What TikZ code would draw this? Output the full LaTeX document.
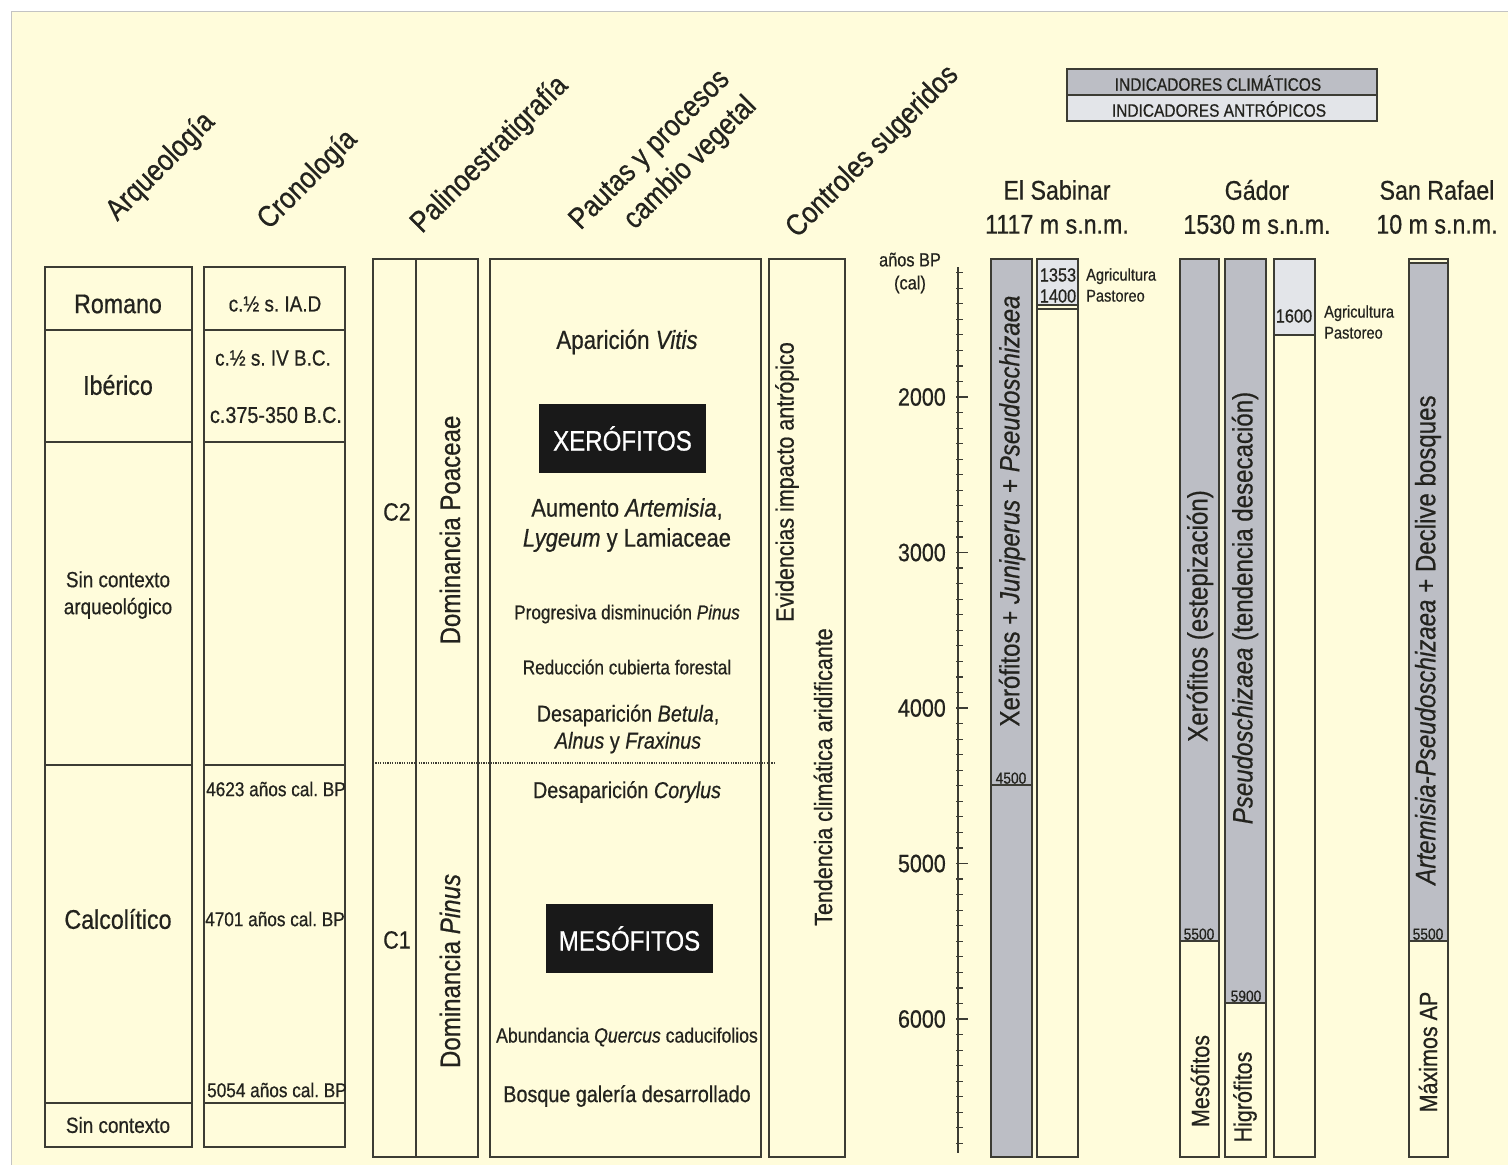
\documentclass[tikz,border=0pt]{standalone}
\usepackage{fontspec}
\setmainfont[FakeStretch=0.86, FakeBold=0.6]{Liberation Sans}
\definecolor{cream}{RGB}{255,252,219}
\definecolor{linec}{RGB}{60,60,52}
\definecolor{textc}{RGB}{35,35,30}
\definecolor{climg}{RGB}{188,190,197}
\definecolor{antrg}{RGB}{227,229,233}
\definecolor{framec}{RGB}{195,195,195}
\newcommand\fsz[2]{\fontsize{#1}{#2}\selectfont}
\frenchspacing
\begin{document}
\frenchspacing
\begin{tikzpicture}[x=1pt,y=-1pt,
  box/.style={draw=linec, line width=1.3pt},
  txt/.style={inner sep=0pt, text=textc},
  hdr/.style={txt, rotate=45, font=\fsz{30}{38}},
  big/.style={txt, font=\fsz{27}{31}},
  mid/.style={txt, font=\fsz{23}{27}},
  sml/.style={txt, font=\fsz{20}{24}},
  tiny/.style={txt, font=\fsz{16}{18}},
  vert/.style={txt, rotate=90, font=\fsz{28}{32}},
  blackbox/.style={fill=black!90, text=white, inner sep=0pt, minimum width=167pt, minimum height=69pt, font=\fsz{28}{32}},
  site/.style={txt, align=center, font=\fsz{27}{34}},
  dat/.style={txt, font=\fsz{19}{22}},
  ant/.style={txt, anchor=west, align=left, font=\fsz{17}{21}}
]
\useasboundingbox (0,0) rectangle (1508,1165);
\fill[white] (0,0) rectangle (1508,1165);
\filldraw[fill=cream, draw=framec, line width=1pt] (11,11) rectangle (1512,1170);

% ---------- headers ----------
\node[hdr] (hArq) at (161,167) {Arqueología};
\node[hdr] (hCro) at (308,180) {Cronología};
\node[hdr] (hPal) at (490,155) {Palinoestratigrafía};
\node[hdr, align=right] (hPau) at (664,164) {Pautas y procesos\\cambio vegetal};
\node[hdr] (hCon) at (873,152) {Controles sugeridos};

% ---------- Arqueologia ----------
\draw[box] (45,267) rectangle (192,1147);
\foreach \yy in {330,442,765,1103} \draw[box] (45,\yy) -- (192,\yy);
\node[big] (aRom) at (118,304) {Romano};
\node[big] (aIbe) at (118,385) {Ibérico};
\node[txt, align=center, font=\fsz{22}{27}] (aSin) at (118,595) {Sin contexto\\arqueológico};
\node[big] (aCal) at (118,919) {Calcolítico};
\node[txt, font=\fsz{22}{26}] (aSin2) at (118,1125) {Sin contexto};

% ---------- Cronologia ----------
\draw[box] (204,267) rectangle (345,1147);
\foreach \yy in {330,442,765,1103} \draw[box] (204,\yy) -- (345,\yy);
\node[txt, font=\fsz{22}{26}] (c1) at (275,304) {c.½ s. IA.D};
\node[txt, font=\fsz{22}{26}] (c2) at (273,358) {c.½ s. IV B.C.};
\node[txt, font=\fsz{23}{26}] (c3) at (276,415) {c.375-350 B.C.};
\node[sml] (c4) at (276,789) {4623 años cal. BP};
\node[sml] (c5) at (275,919) {4701 años cal. BP};
\node[sml] (c6) at (277,1090) {5054 años cal. BP};

% ---------- Palinoestratigrafia ----------
\draw[box] (373,259) rectangle (478,1157);
\draw[box] (416,259) -- (416,1157);
\node[txt, font=\fsz{25}{29}] (pC2) at (397,512) {C2};
\node[txt, font=\fsz{25}{29}] (pC1) at (397,940) {C1};
\node[vert] (pPoa) at (450,530) {Dominancia Poaceae};
\node[vert] (pPin) at (450,971) {Dominancia \textit{Pinus}};

% ---------- Pautas ----------
\draw[box] (490,259) rectangle (761,1157);
\node[txt, font=\fsz{26}{30}] (vVit) at (627,342) {Aparición \textit{Vitis}};
\node[blackbox] (vXer) at (622.5,438.5) {XERÓFITOS};
\node[txt, align=center, font=\fsz{25.5}{30}] (vArt) at (627,525) {Aumento \textit{Artemisia},\\\textit{Lygeum} y Lamiaceae};
\node[sml] (vPin) at (627,614) {Progresiva disminución \textit{Pinus}};
\node[sml] (vRed) at (627,667) {Reducción cubierta forestal};
\node[txt, align=center, font=\fsz{23}{27}] (vBet) at (628,729) {Desaparición \textit{Betula},\\\textit{Alnus} y \textit{Fraxinus}};
\node[mid] (vCor) at (627,792) {Desaparición \textit{Corylus}};
\node[blackbox] (vMes) at (629.5,938.5) {MESÓFITOS};
\node[txt, font=\fsz{20.5}{24}] (vQue) at (627,1037) {Abundancia \textit{Quercus} caducifolios};
\node[mid] (vBos) at (627,1096) {Bosque galería desarrollado};

% ---------- Controles ----------
\draw[box] (769,259) rectangle (845,1157);
\node[txt, rotate=90, font=\fsz{25}{29}] (kEvi) at (787,482) {Evidencias impacto antrópico};
\node[txt, rotate=90, font=\fsz{25}{29}] (kTen) at (823,777) {Tendencia climática aridificante};

% dotted boundary
\coordinate (dotL) at (373,763);
\coordinate (dotR) at (776,763);
\draw[linec, line width=1.3pt, dash pattern=on 1.2pt off 1.2pt] (dotL) -- (dotR);

% ---------- axis ----------
\node[dat, align=center, font=\fsz{19}{23}] (axT) at (910,273) {años BP\\(cal)};
\draw[linec, line width=1.6pt] (958,267) -- (958,1153);
\foreach \yr in {12,...,68} {
  \pgfmathsetmacro\yy{397+(\yr*100-2000)*0.1555}
  \draw[linec, line width=1.2pt] (956,\yy) -- (963,\yy);
}
\foreach \yr in {2000,3000,4000,5000,6000} {
  \pgfmathsetmacro\yy{397+(\yr-2000)*0.1555}
  \draw[linec, line width=1.4pt] (956,\yy) -- (968,\yy);
  \node[txt, anchor=east, font=\fsz{25}{29}] (ax\yr) at (946,\yy) {\yr};
}

% ---------- site titles ----------
\node[site] (tSab) at (1057,207) {El Sabinar\\1117 m s.n.m.};
\node[site] (tGad) at (1257,207) {Gádor\\1530 m s.n.m.};
\node[site] (tRaf) at (1437,207) {San Rafael\\10 m s.n.m.};

% ---------- legend ----------
\filldraw[fill=climg, draw=linec, line width=1.2pt] (1067,69) rectangle (1377,95);
\filldraw[fill=antrg, draw=linec, line width=1.2pt] (1067,95) rectangle (1377,121);
\node[txt, font=\fsz{18}{20}] (lCli) at (1218,83) {INDICADORES CLIMÁTICOS};
\node[txt, font=\fsz{18}{20}] (lAnt) at (1219,109) {INDICADORES ANTRÓPICOS};

% ---------- El Sabinar ----------
\filldraw[fill=climg, draw=linec, line width=1.2pt] (991,259) rectangle (1032,1157);
\draw[linec, line width=1.2pt] (991,785) -- (1032,785);
\node[tiny, anchor=south] (s4500) at (1011,784) {4500};
\node[vert] (sXer) at (1012,511) {Xerófitos + \textit{Juniperus} + \textit{Pseudoschizaea}};

\filldraw[fill=cream, draw=linec, line width=1.2pt] (1037,259) rectangle (1078,1157);
\filldraw[fill=antrg, draw=linec, line width=1.2pt] (1037,259) rectangle (1078,305);
\draw[linec, line width=1.2pt] (1037,309) -- (1078,309);
\node[dat] (s1353) at (1058,275) {1353};
\node[dat] (s1400) at (1058,296) {1400};
\node[ant] (sAgr) at (1086,285) {Agricultura\\Pastoreo};

% ---------- Gador ----------
\filldraw[fill=cream, draw=linec, line width=1.2pt] (1180,259) rectangle (1219,1157);
\filldraw[fill=climg, draw=linec, line width=1.2pt] (1180,259) rectangle (1219,941);
\node[tiny, anchor=south] (g5500) at (1199,940) {5500};
\node[vert] (gXer) at (1200,616) {Xerófitos (estepización)};
\node[txt, rotate=90, font=\fsz{25}{29}] (gMes) at (1200,1081) {Mesófitos};

\filldraw[fill=cream, draw=linec, line width=1.2pt] (1225,259) rectangle (1266,1157);
\filldraw[fill=climg, draw=linec, line width=1.2pt] (1225,259) rectangle (1266,1003);
\node[tiny, anchor=south] (g5900) at (1246,1002) {5900};
\node[vert] (gPse) at (1245,608) {\textit{Pseudoschizaea} (tendencia desecación)};
\node[txt, rotate=90, font=\fsz{25}{29}] (gHig) at (1245,1097) {Higrófitos};

\filldraw[fill=cream, draw=linec, line width=1.2pt] (1274,259) rectangle (1315,1157);
\filldraw[fill=antrg, draw=linec, line width=1.2pt] (1274,259) rectangle (1315,335);
\node[dat] (g1600) at (1294,316) {1600};
\node[ant] (gAgr) at (1324,322) {Agricultura\\Pastoreo};

% ---------- San Rafael ----------
\filldraw[fill=cream, draw=linec, line width=1.2pt] (1409,259) rectangle (1448,1157);
\filldraw[fill=climg, draw=linec, line width=1.2pt] (1409,263) rectangle (1448,941);
\node[tiny, anchor=south] (r5500) at (1428,940) {5500};
\node[vert] (rArt) at (1428,640) {\textit{Artemisia-Pseudoschizaea} + Declive bosques};
\node[txt, rotate=90, font=\fsz{25}{29}] (rMax) at (1428,1052) {Máximos AP};
\end{tikzpicture}
\end{document}
